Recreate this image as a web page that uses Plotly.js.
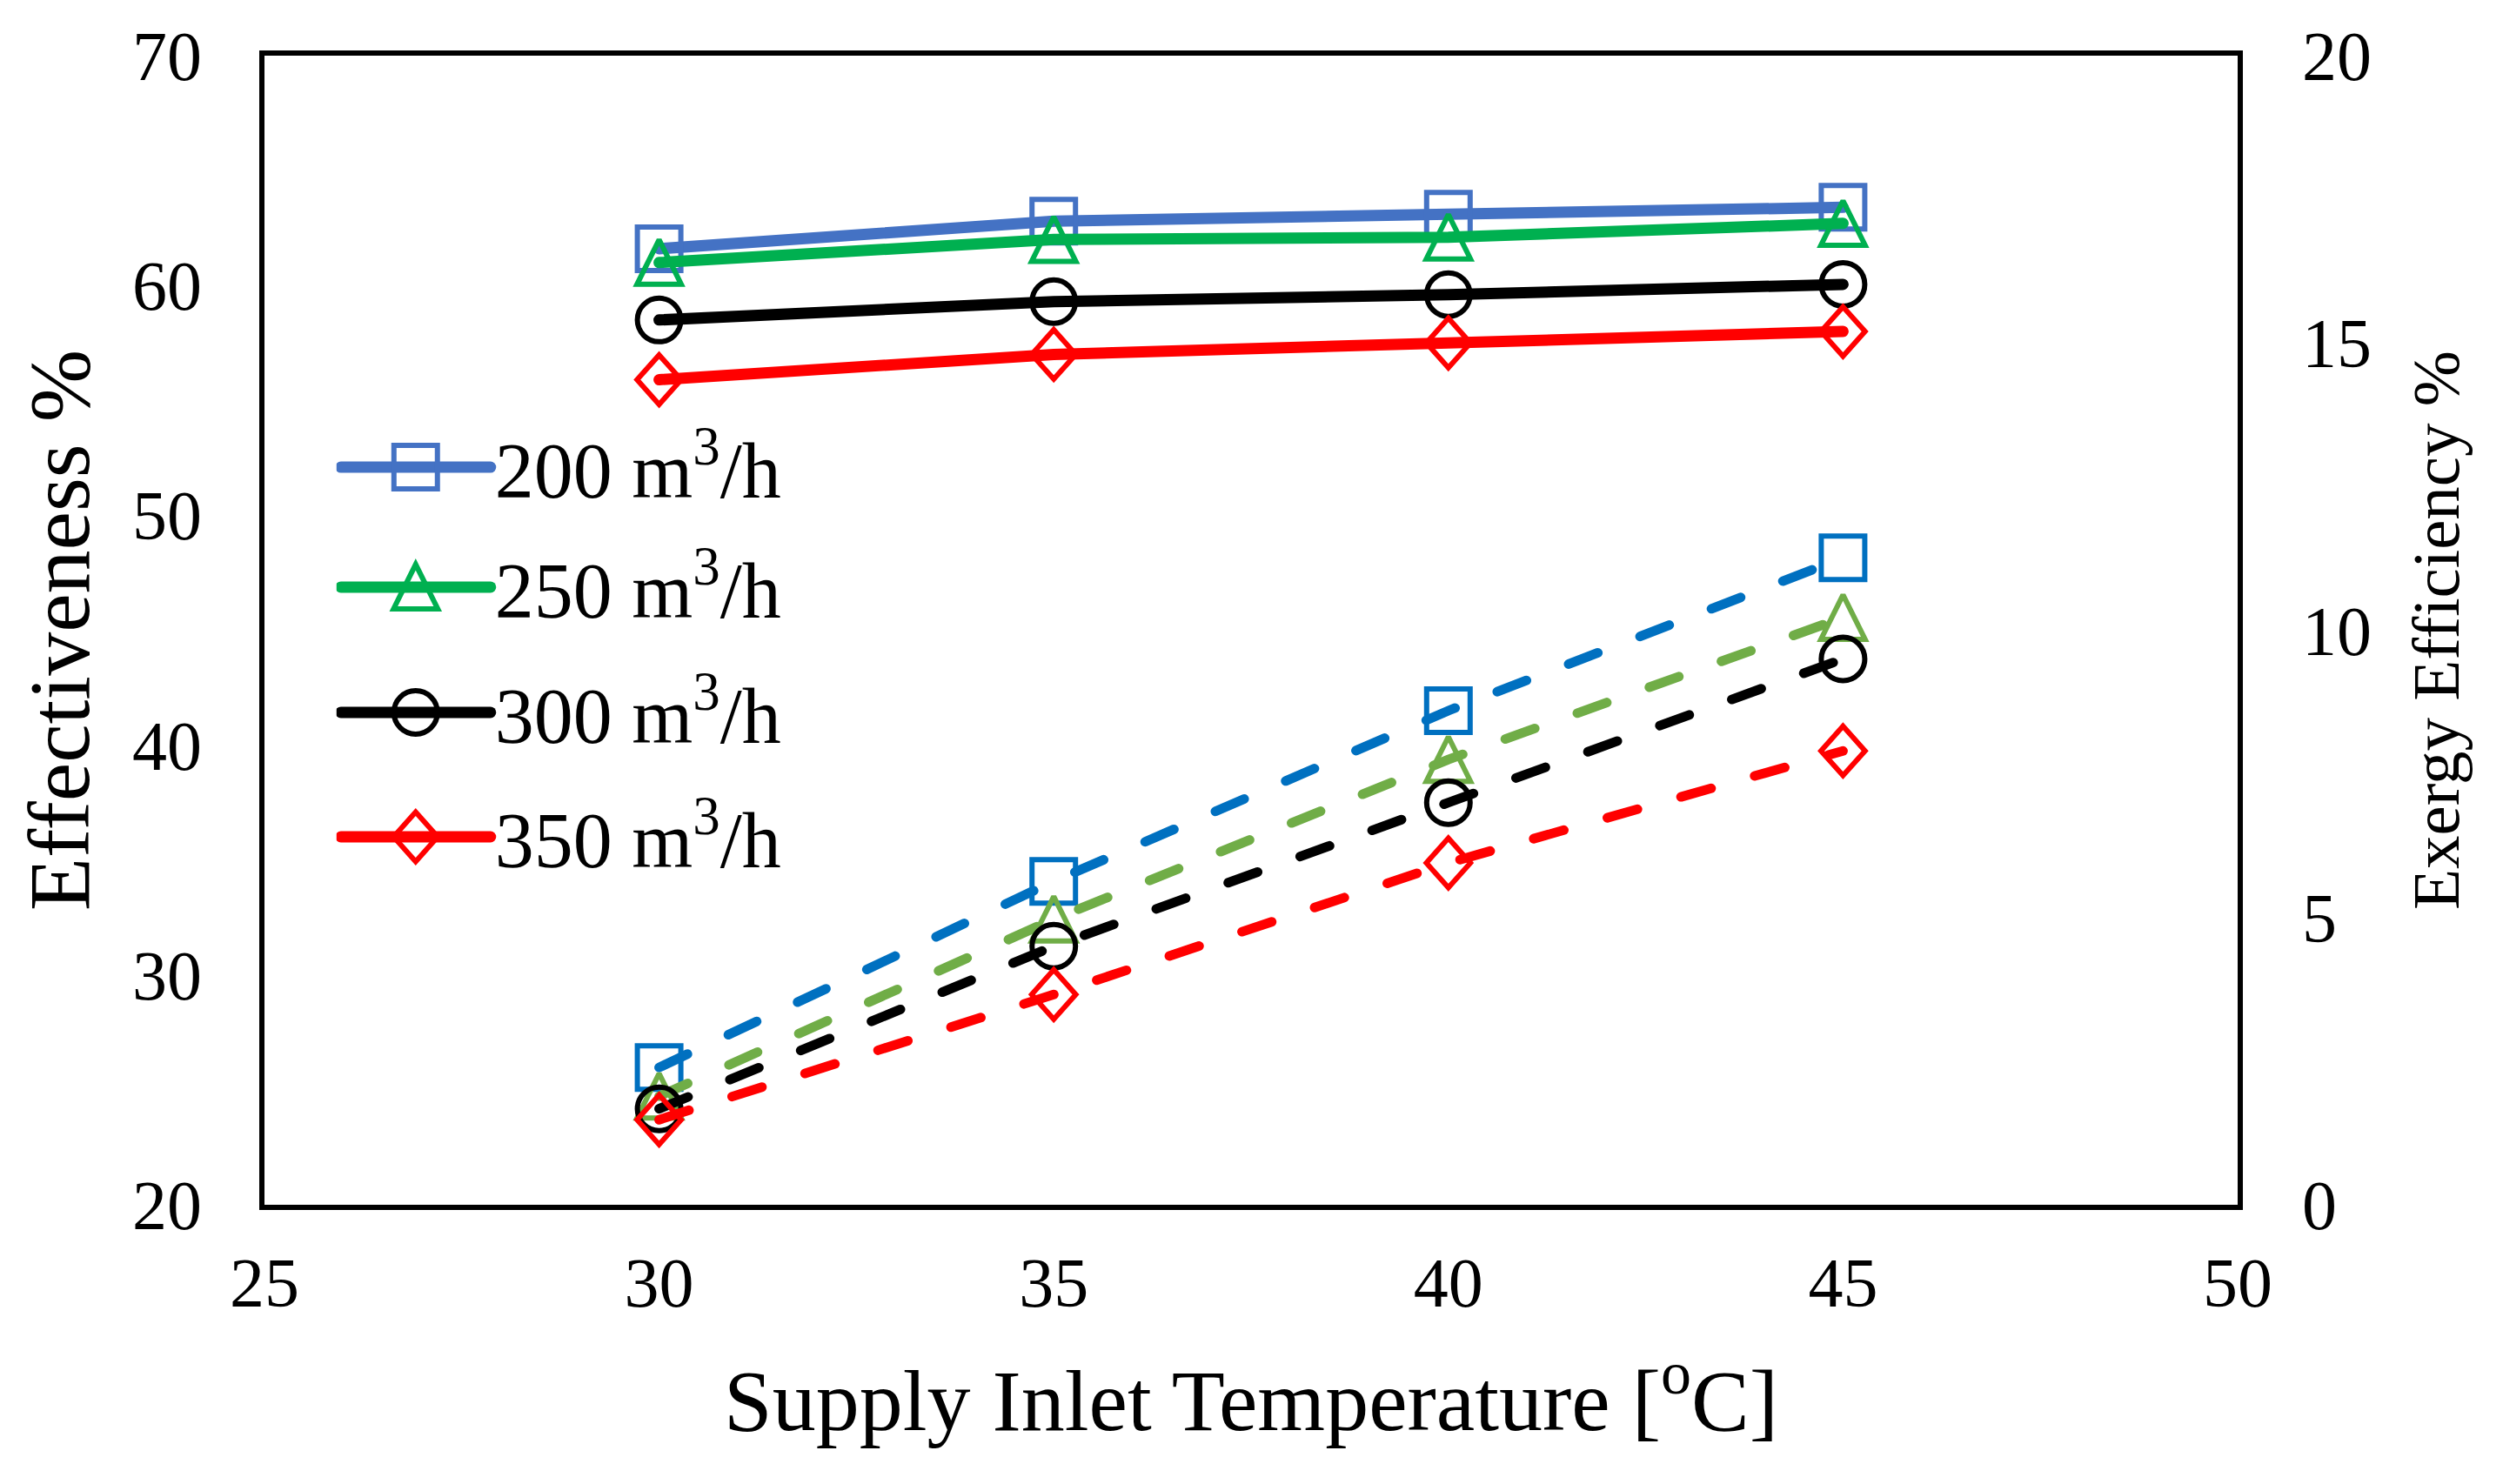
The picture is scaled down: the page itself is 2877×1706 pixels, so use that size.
<!DOCTYPE html>
<html>
<head>
<meta charset="utf-8">
<script src="https://cdn.plot.ly/plotly-3.0.1.min.js"></script>
<style>
  html, body { margin: 0; padding: 0; background: #fff; }
  #plot { width: 2877px; height: 1706px; }
</style>
</head>
<body>
<div id="plot"></div>
<script>
// supply inlet temperature, degC
var temps = [30, 35, 40, 45];
var flowNames = ["200 m<sup>3</sup>/h", "250 m<sup>3</sup>/h", "300 m<sup>3</sup>/h", "350 m<sup>3</sup>/h"];

// effectiveness % (left axis, solid lines)
var eff200 = [61.6, 62.8, 63.1, 63.4];
var eff250 = [61.0, 62.0, 62.1, 62.7];
var eff300 = [58.5, 59.3, 59.6, 60.05];
var eff350 = [55.9, 57.0, 57.5, 58.0];

// exergy efficiency % (right axis, dashed lines)
var exe200 = [2.39, 5.63, 8.6, 11.26];
var exe250 = [1.89, 4.97, 7.75, 10.22];
var exe300 = [1.67, 4.5, 7.0, 9.5];
var exe350 = [1.48, 3.66, 5.95, 7.9];

var font = "Liberation Serif, Times New Roman, serif";
var solidColors = ["#4472C4", "#00B050", "#000000", "#FF0000"];
var dashColors = ["#0070C0", "#70AD47", "#000000", "#FF0000"];
var symbols = ["square-open", "triangle-up-open", "circle-open", "diamond-open"];
var sizes = [50, 44, 50, 39];
// extra stretch for the markers after drawing [sx, sy, dy]
var stretch = [[1, 1, 0], [1, 1.55, 8], [1, 1, 0], [1, 1.12, 0]];

var effSeries = [eff200, eff250, eff300, eff350];
var exeSeries = [exe200, exe250, exe300, exe350];
var legendIds = ["legend", "legend2", "legend3", "legend4"];

var data = [];
for (var i = 0; i < 4; i++) {
  data.push({
    x: temps, y: effSeries[i], name: flowNames[i],
    type: "scatter", mode: "lines+markers",
    legend: legendIds[i],
    line: {color: solidColors[i], width: 13},
    marker: {symbol: symbols[i], size: sizes[i], color: solidColors[i],
             line: {color: solidColors[i], width: 6}}
  });
}
for (var j = 0; j < 4; j++) {
  data.push({
    x: temps, y: exeSeries[j], name: flowNames[j] + " exergy",
    type: "scatter", mode: "lines+markers", yaxis: "y2",
    showlegend: false,
    line: {color: dashColors[j], width: 11, dash: "36px,52px"},
    marker: {symbol: symbols[j], size: sizes[j], color: dashColors[j],
             line: {color: dashColors[j], width: 6}}
  });
}

var legendRows = [0.6419, 0.5375, 0.4285, 0.3202];
function legendBox(yPos) {
  return {
    x: 0.0365, xanchor: "left", y: yPos, yanchor: "middle",
    bgcolor: "rgba(0,0,0,0)", borderwidth: 0,
    itemwidth: 172, itemsizing: "constant",
    font: {family: font, size: 90, color: "#000"}
  };
}

var layout = {
  width: 2877, height: 1706,
  margin: {l: 304, r: 305, t: 64, b: 321},
  paper_bgcolor: "#fff", plot_bgcolor: "#fff",
  font: {family: font, color: "#000"},
  showlegend: true,
  legend: legendBox(legendRows[0]),
  legend2: legendBox(legendRows[1]),
  legend3: legendBox(legendRows[2]),
  legend4: legendBox(legendRows[3]),
  xaxis: {
    range: [25, 50], tick0: 25, dtick: 5,
    showline: true, linecolor: "#000", linewidth: 6, mirror: true,
    showgrid: false, zeroline: false,
    ticks: "outside", ticklen: 15, tickcolor: "rgba(0,0,0,0)",
    tickfont: {family: font, size: 80, color: "#000"},
    title: {text: "Supply Inlet Temperature [<sup>o</sup>C]", standoff: 58,
            font: {family: font, size: 100, color: "#000"}}
  },
  yaxis: {
    range: [20, 70], dtick: 10,
    showline: true, linecolor: "#000", linewidth: 6,
    showgrid: false, zeroline: false,
    ticks: "outside", ticklen: 50, tickcolor: "rgba(0,0,0,0)",
    tickfont: {family: font, size: 80, color: "#000"},
    title: {text: "Effectiveness %", standoff: 18,
            font: {family: font, size: 100, color: "#000"}}
  },
  yaxis2: {
    overlaying: "y", side: "right",
    range: [0, 20], dtick: 5,
    showline: true, linecolor: "#000", linewidth: 6,
    showgrid: false, zeroline: false,
    ticks: "outside", ticklen: 52, tickcolor: "rgba(0,0,0,0)",
    tickfont: {family: font, size: 80, color: "#000"},
    title: {text: "Exergy Efficiency %", standoff: 49,
            font: {family: font, size: 77, color: "#000"}}
  }
};

function setScaled(p, s) {
  if (p.dataset.base === undefined) p.dataset.base = p.getAttribute("transform") || "";
  p.setAttribute("transform", p.dataset.base + " translate(0," + s[2] + ") scale(" + s[0] + "," + s[1] + ")");
  p.style.setProperty("vector-effect", "non-scaling-stroke", "important");
}

function reshapeMarkers() {
  var gd = document.getElementById("plot");
  // round line ends like the original
  gd.querySelectorAll(".scatterlayer .js-line").forEach(function (p) {
    p.style.strokeLinecap = "round";
  });
  // stretch plot markers
  gd.querySelectorAll(".scatterlayer .trace").forEach(function (tr, k) {
    var s = stretch[k % 4];
    tr.querySelectorAll("path.point").forEach(function (p) { setScaled(p, s); });
  });
  // legend symbols at the size of the plot markers
  legendIds.forEach(function (id, k) {
    var lg = gd.querySelector("g." + id);
    if (!lg) return;
    var s = stretch[k];
    var f = sizes[k] / 12;
    lg.querySelectorAll(".legendpoints path").forEach(function (p) {
      setScaled(p, [f * s[0], f * s[1], s[2]]);
      p.style.setProperty("stroke-width", "6px", "important");
    });
    lg.querySelectorAll(".legendlines path").forEach(function (p) {
      p.style.setProperty("stroke-width", "13px", "important");
      p.style.setProperty("stroke-linecap", "round", "important");
    });
  });
}

Plotly.newPlot("plot", data, layout, {staticPlot: true}).then(function (gd) {
  reshapeMarkers();
  gd.on("plotly_afterplot", reshapeMarkers);
  setTimeout(reshapeMarkers, 30);
  setTimeout(reshapeMarkers, 300);
});
</script>
</body>
</html>
